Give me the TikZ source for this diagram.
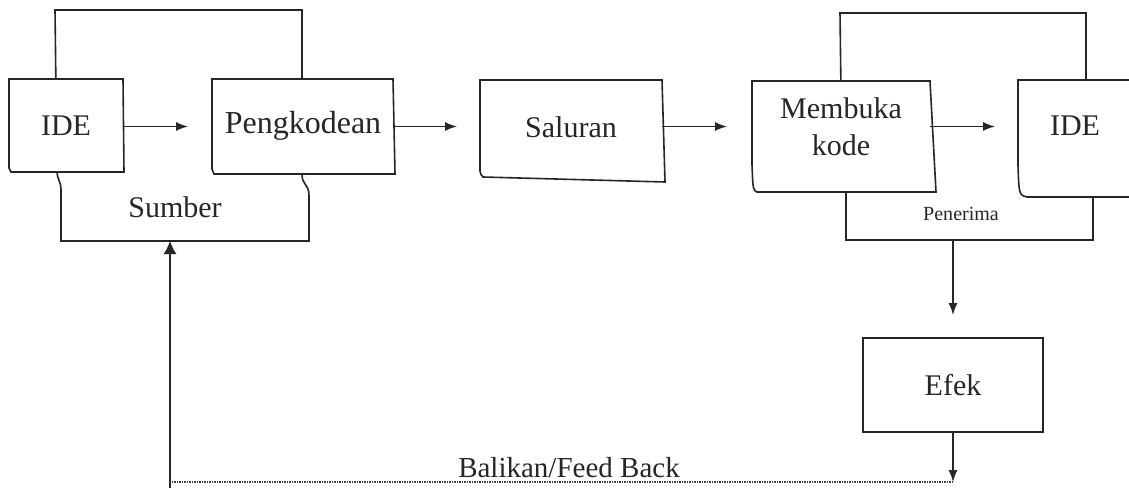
\documentclass[tikz,border=0pt]{standalone}
\usepackage{fontspec}
\setmainfont{Liberation Serif}
\usetikzlibrary{arrows.meta,calc}
\tikzset{
  boxline/.style={line width=1.6pt, draw=black!85},
  shapebox/.style={draw=none, outer sep=0pt, inner sep=0pt},
  lbl/.style={font=\fontsize{30pt}{36pt}\selectfont, text=black!85},
  arr/.style={-{Latex[length=12pt,width=9pt]}, line width=1.4pt, draw=black!85},
  dotline/.style={line width=1.2pt, draw=black!75, dash pattern=on 1.2pt off 1.3pt},
}
\newcommand{\docbox}[5]{%
  \filldraw[boxline, fill=white] (#1.north west) -- (#1.north east)
    -- ([xshift=#4,yshift=-#5]#1.south east) -- ([xshift=#2]#1.south west)
    .. controls ([xshift=1pt,yshift=2pt]#1.south west) .. ([yshift=#3]#1.south west) -- cycle;}
\newcommand{\contbox}[1]{%
  \draw[boxline] (#1.north west) -- (#1.north east)
    -- ([yshift=67pt]#1.south east)
    .. controls ([yshift=55pt]#1.south east) and ([xshift=7pt,yshift=58pt]#1.south east) ..
       ([xshift=7pt,yshift=45pt]#1.south east)
    -- ([xshift=7pt]#1.south east) -- ([xshift=6pt]#1.south west)
    -- ([xshift=6pt,yshift=51pt]#1.south west)
    .. controls ([xshift=6pt,yshift=60pt]#1.south west) and ([xshift=2pt,yshift=62pt]#1.south west) ..
       ([xshift=2pt,yshift=69pt]#1.south west) -- cycle;}
\begin{document}
\begin{tikzpicture}[x=1pt,y=-1pt]
\useasboundingbox (0,0) rectangle (1129,487);
\fill[white] (0,0) rectangle (1129,487);
\clip (0,0) rectangle (1129,487);

% containers
\node[shapebox, minimum width=247pt, minimum height=231pt] (sumber) at (178.5,125.5) {};
\node[shapebox, minimum width=246pt, minimum height=227pt] (penerima) at (963,126.5) {};
\contbox{sumber}
\contbox{penerima}
\node[lbl, anchor=base] (sumbertext) at (175,217) {Sumber};
\node[lbl, font=\fontsize{20pt}{24pt}\selectfont, anchor=base] (penerimatext) at (961,220) {Penerima};

% boxes
\node[shapebox, minimum width=114pt, minimum height=93pt] (ide1) at (66,125.5) {};
\docbox{ide1}{2pt}{4pt}{1pt}{0pt}
\node[lbl] (ide1text) at (ide1) {IDE};

\node[shapebox, minimum width=181pt, minimum height=95pt] (peng) at (302.5,126.5) {};
\docbox{peng}{2pt}{5pt}{2pt}{0pt}
\node[lbl, font=\fontsize{32pt}{38pt}\selectfont] (pengtext) at (303,126) {Pengkodean};

\node[shapebox, minimum width=182pt, minimum height=97pt] (sal) at (571,128.5) {};
\docbox{sal}{3pt}{6pt}{3pt}{5pt}
\node[lbl] (saltext) at (571,127) {Saluran};

\node[shapebox, minimum width=178pt, minimum height=111pt] (memb) at (841,136.5) {};
\docbox{memb}{5pt}{27pt}{6pt}{0pt}
\node[lbl, font=\fontsize{30pt}{37pt}\selectfont, align=center] (membtext) at (841,127) {Membuka\\kode};

\node[shapebox, minimum width=116pt, minimum height=117pt] (ide2) at (1076,138.5) {};
\docbox{ide2}{9pt}{32pt}{0pt}{0pt}
\node[lbl] (ide2text) at (1075,126) {IDE};

\node[draw, boxline, fill=white, outer sep=0pt, minimum width=180pt, minimum height=94pt, lbl] (efek) at (953,385) {Efek};

% connectors
\draw[arr, shorten >=24pt] (ide1.east |- peng.east) -- (peng.west);
\draw[arr, shorten >=23pt] (peng.east) -- (peng.east -| sal.west);
\draw[arr, shorten >=25pt] (sal.east |- peng.east) -- (peng.east -| memb.west);
\draw[arr, shorten >=23pt] (memb.east |- peng.east) -- (peng.east -| ide2.west);
\draw[arr, shorten >=23pt] (penerima.south -| efek.north) -- (efek.north);

\coordinate (fbcorner) at (170,482);
\coordinate (fbstart) at (170,492);
\draw[arr] (efek.south) -- (efek.south |- fbcorner);
\draw[dotline] (efek.south |- fbcorner) -- (fbcorner);
\draw[arr, -{Latex[length=13pt,width=13pt]}] (fbstart) -- (fbstart |- sumber.south);
\node[lbl, font=\fontsize{29pt}{34pt}\selectfont, anchor=base] (fbtext) at (569,477) {Balikan/Feed Back};
\end{tikzpicture}
\end{document}
